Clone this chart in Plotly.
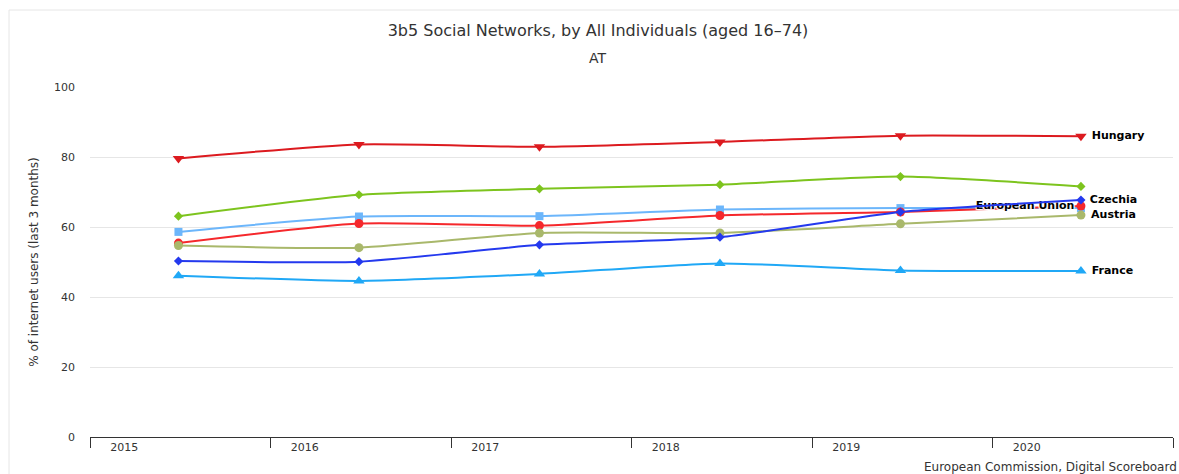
import plotly.graph_objects as go

# ── Data ─────────────────────────────────────────────────────────────────────
years = ["2015", "2016", "2017", "2018", "2019", "2020"]

hungary   = [79.6, 83.6, 82.9, 84.3, 86.1, 85.9]
green_ser = [63.1, 69.2, 70.9, 72.1, 74.4, 71.6]
blue_sq   = [58.6, 63.0, 63.1, 65.0, 65.4, 65.4]
eu        = [55.4, 61.0, 60.4, 63.3, 64.3, 66.0]
austria   = [54.7, 54.1, 58.3, 58.3, 60.9, 63.4]
czechia   = [50.3, 50.1, 54.9, 57.1, 64.3, 67.7]
france    = [46.1, 44.6, 46.6, 49.6, 47.6, 47.4]

FONT = "DejaVu Sans, Lucida Grande, Verdana, sans-serif"
x = list(range(len(years)))

MARKER_SIZE = {"triangle-down": 10, "triangle-up": 10, "diamond": 7,
               "square": 8, "circle": 9}

# (values, label, colour, marker symbol, label side)
series = [
    (hungary,   "Hungary",        "#dc1a1f", "triangle-down", "middle right"),
    (green_ser, "",               "#7dc41e", "diamond",       "middle right"),
    (blue_sq,   "",               "#6cb6fb", "square",        "middle right"),
    (eu,        "European Union", "#f5282c", "circle",        "middle left"),
    (austria,   "Austria",        "#a9b86b", "circle",        "middle right"),
    (czechia,   "Czechia",        "#2439ee", "diamond",       "middle right"),
    (france,    "France",         "#20a8f6", "triangle-up",   "middle right"),
]

fig = go.Figure()
for vals, label, color, symbol, pos in series:
    lab = ""
    if label:
        lab = "<b>" + label + "</b>"
        lab = " " + lab if pos.endswith("right") else lab
    text = [""] * (len(vals) - 1) + [lab]
    fig.add_trace(go.Scatter(
        x=x, y=vals,
        mode="lines+markers+text",
        line=dict(color=color, width=2, shape="spline", smoothing=0.6),
        marker=dict(color=color, symbol=symbol, size=MARKER_SIZE[symbol]),
        text=text, textposition=pos,
        textfont=dict(family=FONT, size=11, color="#000000",
                      shadow="1px 1px 1px #fff, -1px -1px 1px #fff, 1px -1px 1px #fff, -1px 1px 1px #fff"),
        cliponaxis=False,
        showlegend=False,
        hoverinfo="x+y",
    ))

# plot-area edges, used for tick marks between the year bands
edges = [i - 0.49 for i in range(len(years) + 1)]

fig.update_layout(
    width=1179, height=474,
    paper_bgcolor="#ffffff", plot_bgcolor="#ffffff",
    font=dict(family=FONT, color="#333333"),
    margin=dict(l=90, r=6, t=87, b=37),
    title=dict(text="3b5 Social Networks, by All Individuals (aged 16\u201374)",
               xref="container", x=598 / 1179, xanchor="center",
               y=1 - 30 / 474, yanchor="middle",
               font=dict(family=FONT, size=16, color="#333333")),
    xaxis=dict(range=[-0.49, 5.51], tickvals=[i - 0.3 for i in x], ticktext=years,
               ticks="", showgrid=False, zeroline=False,
               showline=True, linecolor="#333333", linewidth=1,
               tickfont=dict(family=FONT, size=11, color="#333333")),
    xaxis2=dict(range=[-0.49, 5.51], overlaying="x", side="bottom", anchor="y",
                tickvals=edges, showticklabels=False, ticks="outside",
                ticklen=10, tickcolor="#333333", showgrid=False, zeroline=False,
                showline=False),
    yaxis=dict(range=[0, 100], dtick=20, showgrid=True, gridcolor="#e6e6e6",
               zeroline=False, showline=False, ticks="", ticklabelstandoff=14,
               tickfont=dict(family=FONT, size=11, color="#333333"),
               title=dict(text="% of internet users (last 3 months)", standoff=12,
                          font=dict(family=FONT, size=12, color="#333333"))),
    annotations=[
        dict(text="AT", xref="paper", yref="paper", x=(597 - 90) / 1083, y=1, yshift=29,
             xanchor="center", yanchor="middle", showarrow=False,
             font=dict(family=FONT, size=14, color="#333333")),
        dict(text="European Commission, Digital Scoreboard", xref="paper", yref="paper",
             x=1, y=0, xshift=6, yshift=-30, xanchor="right", yanchor="middle",
             showarrow=False, font=dict(family=FONT, size=12, color="#333333")),
    ],
    shapes=[dict(type="rect", xref="paper", yref="paper",
                 x0=(9 - 90) / 1083, x1=(1190 - 90) / 1083,
                 y0=-(490 - 437) / 350, y1=1 + (87 - 10) / 350,
                 line=dict(color="#e6e6e6", width=1), layer="below")],
)
# dummy trace to show xaxis2
fig.add_trace(go.Scatter(x=[None], y=[None], xaxis="x2", showlegend=False))

# the page's default body margin would push the chart 8px off
fig.write_html("out.html", config={"displayModeBar": False},
               post_script="document.body.style.margin='0';")
